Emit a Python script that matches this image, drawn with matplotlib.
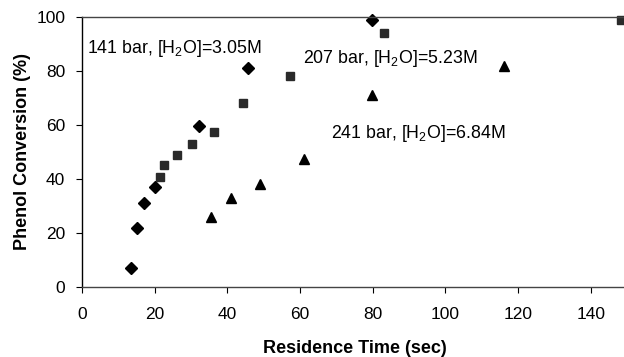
import matplotlib
matplotlib.use("Agg")
import matplotlib.pyplot as plt

plt.rcParams['font.family'] = ['Liberation Sans', 'DejaVu Sans']
plt.rcParams['mathtext.fontset'] = 'custom'
plt.rcParams['mathtext.rm'] = 'Liberation Sans'
plt.rcParams['mathtext.it'] = 'Liberation Sans:italic'
plt.rcParams['mathtext.bf'] = 'Liberation Sans:bold'
plt.rcParams['mathtext.default'] = 'regular'

# 141 bar series (diamonds)
t141 = [13.5, 15.0, 17.1, 20.1, 32.3, 45.6, 79.7]
c141 = [7.2, 21.8, 31.0, 37.2, 59.6, 80.9, 98.8]
# 207 bar series (squares)
t207 = [21.6, 22.7, 26.2, 30.4, 36.4, 44.4, 57.3, 83.1, 148.4]
c207 = [40.6, 45.2, 48.9, 53.0, 57.3, 68.2, 78.1, 93.9, 98.8]
# 241 bar series (triangles)
t241 = [35.4, 41.0, 49.1, 61.2, 79.9, 116.2]
c241 = [26.1, 32.9, 38.2, 47.3, 71.1, 81.8]

xticks = [0, 20, 40, 60, 80, 100, 120, 140]
yticks = [0, 20, 40, 60, 80, 100]

fig = plt.figure(figsize=(6.24, 3.57), dpi=100)
ax = fig.add_axes([82/624, 1 - 287.3/357, (627 - 82)/624, (287.3 - 16.7)/357])

ax.plot(t141, c141, linestyle='none', marker='D', markersize=6.2, color='black', clip_on=False)
ax.plot(t207, c207, linestyle='none', marker='s', markersize=5.3, color='#2a2a2a', clip_on=False)
ax.plot(t241, c241, linestyle='none', marker='^', markersize=7, color='black', clip_on=False)

ax.set_xlim(0, 150)
ax.set_ylim(0, 100)
ax.set_xticks(xticks)
ax.set_yticks(yticks)
ax.tick_params(direction='out', length=4, width=0.8, labelsize=12.5)
ax.tick_params(axis='x', pad=10)
ax.tick_params(axis='y', pad=8)

ax.spines['right'].set_visible(False)
ax.spines['top'].set_color('#444444')
ax.spines['top'].set_linewidth(1.0)
ax.spines['left'].set_linewidth(1.0)
ax.spines['bottom'].set_color('#444444')
ax.spines['bottom'].set_linewidth(1.0)

ax.set_xlabel('Residence Time (sec)', fontsize=13, fontweight='bold', labelpad=13)
ax.set_ylabel('Phenol Conversion (%)', fontsize=13, fontweight='bold', labelpad=4)

ax.text(1.3, 88.4, '141 bar, [H$_2$O]=3.05M', fontsize=12.8, va='center', ha='left')
ax.text(60.9, 84.7, '207 bar, [H$_2$O]=5.23M', fontsize=12.8, va='center', ha='left')
ax.text(68.5, 57.0, '241 bar, [H$_2$O]=6.84M', fontsize=12.8, va='center', ha='left')

fig.savefig('out.png', dpi=100)
